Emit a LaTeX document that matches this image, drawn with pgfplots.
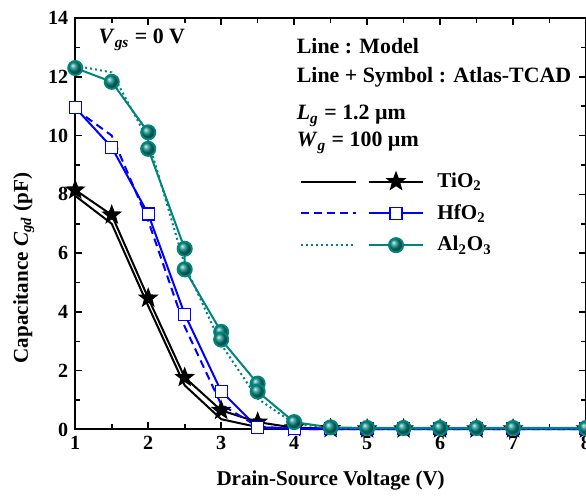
\documentclass[border=0pt]{standalone}
\usepackage{fontspec}
\setmainfont{Liberation Serif}
\usepackage{pgfplots}
\pgfplotsset{compat=1.18}
\usetikzlibrary{plotmarks}
\definecolor{tealc}{RGB}{0,133,125}
\pgfdeclareplotmark{fstar}{%
  \pgfpathmoveto{\pgfpointpolar{90}{\pgfplotmarksize}}%
  \pgfpathlineto{\pgfpointpolar{126}{0.42\pgfplotmarksize}}%
  \pgfpathlineto{\pgfpointpolar{162}{\pgfplotmarksize}}%
  \pgfpathlineto{\pgfpointpolar{198}{0.42\pgfplotmarksize}}%
  \pgfpathlineto{\pgfpointpolar{234}{\pgfplotmarksize}}%
  \pgfpathlineto{\pgfpointpolar{270}{0.42\pgfplotmarksize}}%
  \pgfpathlineto{\pgfpointpolar{306}{\pgfplotmarksize}}%
  \pgfpathlineto{\pgfpointpolar{342}{0.42\pgfplotmarksize}}%
  \pgfpathlineto{\pgfpointpolar{18}{\pgfplotmarksize}}%
  \pgfpathlineto{\pgfpointpolar{54}{0.42\pgfplotmarksize}}%
  \pgfpathclose\pgfusepathqfillstroke}

\pgfplotstableread{
x y
1 7.95
1.5 7.0
2 4.2
2.5 1.5
3 0.35
3.5 0.08
4 0.02
4.5 0.01
8 0.01
}\tiomodel
\pgfplotstableread{
x y
1 8.15
1.5 7.3
2 4.47
2.5 1.77
3 0.65
3.5 0.25
4 0.06
4.5 0.03
5 0.02
5.5 0.02
6 0.02
6.5 0.02
7 0.02
8 0.02
}\tiodata
\pgfplotstableread{
x y
1 10.9
1.5 10.0
2 7.1
2.5 3.5
3 0.85
3.5 0.1
4 0.02
4.5 0.01
8 0.01
}\hfmodel
\pgfplotstableread{
x y
1 10.95
1.5 9.6
2 7.33
2.5 3.92
3 1.3
3.5 0.06
4 0.03
4.5 0.03
5 0.03
5.5 0.03
6 0.03
6.5 0.03
7 0.03
8 0.03
}\hfdata
\pgfplotstableread{
x y
1 12.38
1.5 12.15
2 9.85
2.5 5.6
3 2.9
3.5 1.05
4 0.2
4.5 0.05
5 0.03
8 0.03
}\almodel
\pgfplotstableread{
x y
1 12.3
1.5 11.83
2 10.11
2 9.55
2.5 6.15
2.5 5.45
3 3.32
3 3.06
3.5 1.56
3.5 1.29
4 0.25
4.5 0.07
5 0.05
5.5 0.05
6 0.05
6.5 0.05
7 0.05
8 0.05
}\aldata

\begin{document}
\begin{tikzpicture}[trim axis right]
\begin{axis}[
  scale only axis, width=254.5pt, height=205pt,
  xmin=1, xmax=8, ymin=0, ymax=14,
  xtick={1,...,8}, ytick={0,2,...,14},
  minor x tick num=1, minor y tick num=1,
  tick align=inside,
  major tick length=3.5pt, minor tick length=2.5pt,
  axis line style={line width=1pt},
  every tick/.style={black, line width=0.8pt},
  /pgf/number format/assume math mode=true,
  tick label style={font=\fontsize{10}{12}\selectfont\bfseries},
  xlabel={Drain-Source Voltage (V)},
  ylabel={Capacitance \textit{C}\textsubscript{\textit{gd}} (pF)},
  label style={font=\fontsize{10.5}{12}\selectfont\bfseries},
  xlabel style={yshift=-3.5pt},
  ylabel style={at={(ticklabel cs:0.385)}, xshift=1.5pt},
  clip=false,
  legend columns=2,
  legend cell align=left,
  legend style={draw=none, fill=none, at={(0.427,0.642)}, anchor=north west,
    font=\fontsize{10.5}{12}\selectfont\bfseries, row sep=4pt,
    nodes={inner sep=1.5pt},
    /tikz/column 1/.style={column sep=2.5pt},
    /tikz/column 3/.style={column sep=5pt}},
  legend image code/.code={\draw[mark repeat=2,mark phase=2] plot coordinates {(0cm,0cm) (0.48cm,0cm) (0.96cm,0cm)};},
]
\addplot[black, line width=1pt, no marks] table {\tiomodel};
\addlegendentry{}
\addplot[black, line width=1pt, mark=fstar, mark size=4pt, mark options={solid}] table {\tiodata};
\addlegendentry{TiO\textsubscript{2}}
\addplot[blue, line width=1pt, no marks, dash pattern=on 4pt off 2.5pt] table {\hfmodel};
\addlegendentry{}
\addplot[blue, line width=1pt, mark=square*, mark size=3pt, mark options={solid, fill=white, line width=0.6pt}] table {\hfdata};
\addlegendentry{HfO\textsubscript{2}}
\addplot[tealc, line width=1pt, no marks, dash pattern=on 1pt off 1.5pt] table {\almodel};
\addlegendentry{}
\addplot[tealc, line width=1pt, mark=ball, mark size=3.5pt, mark options={ball color=tealc}] table {\aldata};
\addlegendentry{Al\textsubscript{2}O\textsubscript{3}}

\node[anchor=west, font=\fontsize{10.9}{12}\selectfont\bfseries] at (rel axis cs:0.032,0.947) {\textit{V}\textsubscript{\textit{gs}} = 0 V};
\node[anchor=west, font=\fontsize{10.9}{12}\selectfont\bfseries] at (rel axis cs:0.42,0.932) {Line : Model};
\node[anchor=west, font=\fontsize{10.9}{12}\selectfont\bfseries] at (rel axis cs:0.42,0.856) {Line + Symbol : Atlas-TCAD};
\node[anchor=west, font=\fontsize{10.9}{12}\selectfont\bfseries] at (rel axis cs:0.42,0.762) {\textit{L}\textsubscript{\textit{g}} = 1.2 µm};
\node[anchor=west, font=\fontsize{10.9}{12}\selectfont\bfseries] at (rel axis cs:0.42,0.697) {\textit{W}\textsubscript{\textit{g}} = 100 µm};
\end{axis}
\path ([xshift=-37.5pt]current axis.south west);
\path ([yshift=9pt]current axis.north west);
\path ([yshift=-33.5pt]current axis.south west);
\end{tikzpicture}
\end{document}
